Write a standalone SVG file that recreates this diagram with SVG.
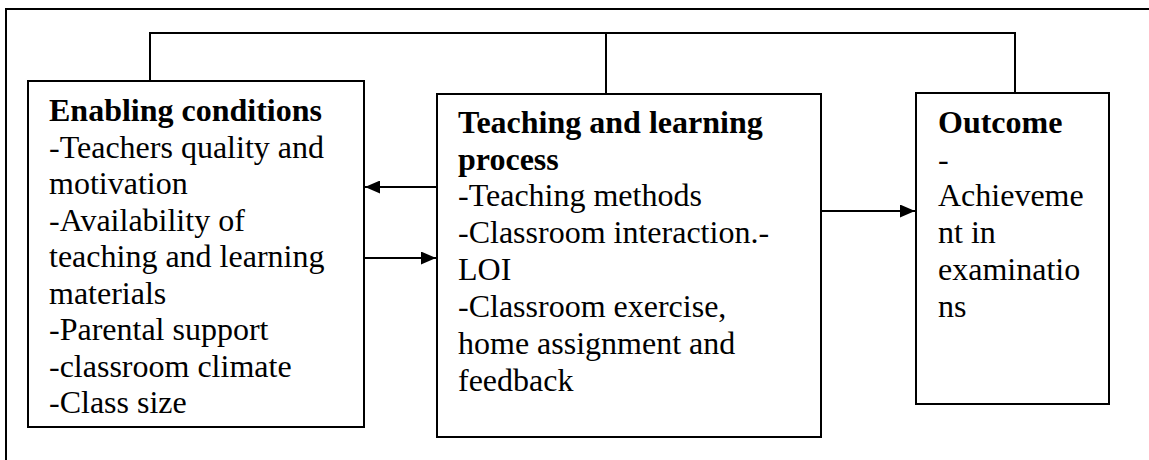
<svg xmlns="http://www.w3.org/2000/svg" width="1149" height="460" viewBox="0 0 1149 460">
<style>
.box{fill:#fff;stroke:#000;stroke-width:2}
.ln{fill:none;stroke:#000;stroke-width:2}
.t{font-family:'Liberation Serif',serif;font-size:32px;fill:#000}
.b{font-weight:bold}
</style>
<defs>
<marker id="ah2" markerWidth="15" markerHeight="13" refX="15" refY="6.5" orient="auto" markerUnits="userSpaceOnUse" viewBox="0 0 15 13">
<path d="M0,0 L15,6.5 L0,13 z" fill="#000"/>
</marker>
</defs>
<g id="frame">
<path class="ln" d="M6,460 V9 H1149"/>
</g>
<g id="connectors">
<path class="ln" d="M150,81 V33 H1015 V93"/>
<path class="ln" d="M606,33 V94"/>
<path class="ln" d="M437,187 H365" marker-end="url(#ah2)"/>
<path class="ln" d="M364,258 H436" marker-end="url(#ah2)"/>
<path class="ln" d="M821,211 H915" marker-end="url(#ah2)"/>
</g>
<g id="enabling" class="t" font-family="Liberation Serif, serif">
<rect class="box" x="28" y="81" width="336" height="346"/>
<text x="49" y="121" class="b">Enabling conditions</text>
<text x="49" y="157.5">-Teachers quality and</text>
<text x="49" y="194">motivation</text>
<text x="49" y="230.5">-Availability of</text>
<text x="49" y="267">teaching and learning</text>
<text x="49" y="303.5">materials</text>
<text x="49" y="340">-Parental support</text>
<text x="49" y="376.5">-classroom climate</text>
<text x="49" y="413">-Class size</text>
</g>
<g id="teaching" class="t" font-family="Liberation Serif, serif">
<rect class="box" x="437" y="94" width="384" height="343"/>
<text x="458" y="133" class="b">Teaching and learning</text>
<text x="458" y="169.5" class="b">process</text>
<text x="458" y="206">-Teaching methods</text>
<text x="458" y="243">-Classroom interaction.-</text>
<text x="458" y="280">LOI</text>
<text x="458" y="317">-Classroom exercise,</text>
<text x="458" y="354">home assignment and</text>
<text x="458" y="391">feedback</text>
</g>
<g id="outcome" class="t" font-family="Liberation Serif, serif">
<rect class="box" x="916" y="93" width="193" height="311"/>
<text x="938" y="133" class="b">Outcome</text>
<text x="938" y="169.5">-</text>
<text x="938" y="206">Achieveme</text>
<text x="938" y="243">nt in</text>
<text x="938" y="280">examinatio</text>
<text x="938" y="317">ns</text>
</g>
</svg>
